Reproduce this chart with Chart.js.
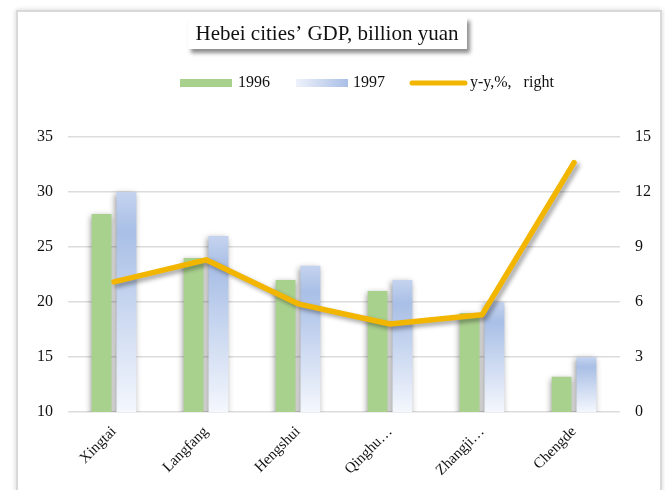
<!DOCTYPE html>
<html>
<head>
<meta charset="utf-8">
<script src="https://cdn.jsdelivr.net/npm/chart.js@4"></script>
<style>
  body { margin: 0; background: #fff; }
  #frame {
    position: absolute; left: 16px; top: 10px; width: 642px; height: 478px;
    border: 2px solid #d9d9d9; box-shadow: 0 0 5px rgba(0,0,0,0.18);
  }
  #myChart { position: absolute; left: 0; top: 0; }
</style>
</head>
<body>
<div id="frame"></div>
<canvas id="myChart" width="665" height="490"></canvas>
<script>
// chart data
const cities = ['Xingtai', 'Langfang', 'Hengshui', 'Qinghu…', 'Zhangji…', 'Chengde'];
const gdp1996 = [28, 24, 22, 21, 19, 13.2];
const gdp1997 = [30, 26, 23.3, 22, 20, 15];
const growth = [7.1, 8.3, 5.9, 4.8, 5.3, 13.6];
const leftTicks = [10, 15, 20, 25, 30, 35];
const rightTicks = [0, 3, 6, 9, 12, 15];

const titleText = 'Hebei cities\u2019 GDP, billion yuan';
const serif = "'Liberation Serif', 'Times New Roman', serif";
const green = '#a9d18e';
const blue = '#a9bfe6';
const gold = '#f2b600';

function blueGrad(c) {
  const chart = c.chart;
  if (!chart.chartArea || c.raw == null) return blue;
  const top = chart.scales.y.getPixelForValue(c.raw);
  const bottom = chart.scales.y.getPixelForValue(leftTicks[0]);
  const g = chart.ctx.createLinearGradient(0, top, 0, bottom);
  g.addColorStop(0, '#c5d3ef');
  g.addColorStop(0.18, blue);
  g.addColorStop(1, '#f4f7fd');
  return g;
}

// soft shadow under bars and line
const shadows = {
  id: 'shadows',
  beforeDatasetDraw(chart, args) {
    const ctx = chart.ctx;
    ctx.save();
    if (args.meta.type === 'line') {
      ctx.shadowColor = 'rgba(0,0,0,0.35)';
      ctx.shadowBlur = 4;
      ctx.shadowOffsetX = 3;
      ctx.shadowOffsetY = 3;
    } else {
      ctx.shadowColor = 'rgba(0,0,0,0.4)';
      ctx.shadowBlur = 6;
      ctx.shadowOffsetX = -1;
      ctx.shadowOffsetY = 2;
    }
  },
  afterDatasetDraw(chart) {
    chart.ctx.restore();
  }
};

// boxed title and legend row
const header = {
  id: 'header',
  afterDraw(chart) {
    const ctx = chart.ctx;
    ctx.save();
    ctx.shadowColor = 'rgba(0,0,0,0.45)';
    ctx.shadowBlur = 4;
    ctx.shadowOffsetX = 3;
    ctx.shadowOffsetY = 4;
    ctx.fillStyle = '#fff';
    ctx.fillRect(188, 17, 279, 32);
    ctx.restore();

    ctx.save();
    ctx.fillStyle = '#111';
    ctx.font = '21px ' + serif;
    ctx.textAlign = 'center';
    ctx.textBaseline = 'middle';
    ctx.fillText(titleText, 327, 34);

    const ds = chart.data.datasets;
    ctx.font = '16px ' + serif;
    ctx.textAlign = 'left';
    const y = 83;

    ctx.fillStyle = green;
    ctx.fillRect(180, y - 4, 52, 8);
    ctx.fillStyle = '#111';
    ctx.fillText(ds[1].label, 238, y);

    const g = ctx.createLinearGradient(296, 0, 348, 0);
    g.addColorStop(0, '#eef2fb');
    g.addColorStop(1, blue);
    ctx.fillStyle = g;
    ctx.fillRect(296, y - 4, 52, 8);
    ctx.fillStyle = '#111';
    ctx.fillText(ds[2].label, 353, y);

    ctx.strokeStyle = gold;
    ctx.lineWidth = 5;
    ctx.lineCap = 'round';
    ctx.beginPath();
    ctx.moveTo(412, y);
    ctx.lineTo(465, y);
    ctx.stroke();
    ctx.fillText(ds[0].label, 470, y);
    ctx.restore();
  }
};

const ctx = document.getElementById('myChart');

new Chart(ctx, {
  data: {
    labels: cities,
    datasets: [{
      type: 'line',
      label: 'y-y,%,   right',
      data: growth,
      yAxisID: 'y1',
      borderColor: gold,
      borderWidth: 5.5,
      borderCapStyle: 'round',
      borderJoinStyle: 'round',
      pointRadius: 0,
      tension: 0,
      order: 0
    }, {
      type: 'bar',
      label: '1996',
      data: gdp1996,
      yAxisID: 'y',
      backgroundColor: green,
      categoryPercentage: 0.54,
      barPercentage: 0.8,
      order: 1
    }, {
      type: 'bar',
      label: '1997',
      data: gdp1997,
      yAxisID: 'y',
      backgroundColor: blueGrad,
      categoryPercentage: 0.54,
      barPercentage: 0.8,
      order: 1
    }]
  },
  options: {
    responsive: false,
    animation: false,
    layout: { padding: { top: 137, right: 0, left: 0, bottom: 0 } },
    plugins: {
      legend: { display: false },
      title: { display: false },
      tooltip: { enabled: false }
    },
    scales: {
      x: {
        grid: { display: false },
        border: { display: false },
        ticks: {
          color: '#111',
          font: { family: serif, size: 15 },
          maxRotation: 45,
          minRotation: 45,
          autoSkip: false,
          padding: 3
        },
        afterFit(s) { s.height = 78; }
      },
      y: {
        position: 'left',
        min: leftTicks[0],
        max: leftTicks[leftTicks.length - 1],
        afterBuildTicks(s) { s.ticks = leftTicks.map(v => ({ value: v })); },
        grid: { color: '#dcdcdc', lineWidth: 1.5, drawTicks: false },
        border: { display: false },
        ticks: { color: '#111', font: { family: serif, size: 16 }, padding: 15 },
        afterFit(s) { s.width = 68; }
      },
      y1: {
        position: 'right',
        min: rightTicks[0],
        max: rightTicks[rightTicks.length - 1],
        afterBuildTicks(s) { s.ticks = rightTicks.map(v => ({ value: v })); },
        grid: { display: false, drawTicks: false },
        border: { display: false },
        ticks: { color: '#111', font: { family: serif, size: 16 }, padding: 15 },
        afterFit(s) { s.width = 45; }
      }
    }
  },
  plugins: [shadows, header]
});
</script>
</body>
</html>
